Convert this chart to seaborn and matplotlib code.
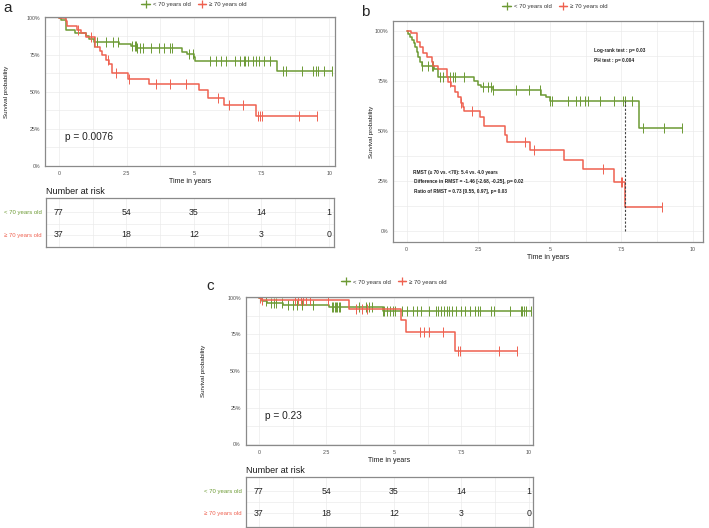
import numpy as np
import pandas as pd
import matplotlib.pyplot as plt
import seaborn as sns
from matplotlib.lines import Line2D

sns.set_style("white")
plt.rcParams['font.family'] = ['Liberation Sans', 'DejaVu Sans']

GREEN = '#6C9A34'
RED = '#EF6150'
GROUPS = ['< 70 years old', '≥ 70 years old']

# ---- panel a: step times / survival, curve end, censor times ----
a_green_t = [0, 0.09, 0.27, 0.6, 1.0, 1.1, 1.3, 2.22, 2.65, 2.9, 4.57, 4.75, 5.0, 5.05, 8.06]
a_green_s = [1.0, 0.985, 0.92, 0.90, 0.875, 0.856, 0.84, 0.827, 0.811, 0.795, 0.769, 0.757, 0.735, 0.71, 0.643]
a_green_end = 10.1
a_green_cens = [1.3, 1.4, 1.75, 2.0, 2.2, 2.7, 2.8, 2.85, 2.9, 3.0, 3.1, 3.4, 3.7, 3.9, 4.1,
                4.2, 4.8, 4.95, 5.6, 5.8, 6.0, 6.2, 6.5, 6.7, 6.85, 6.9, 7.0, 7.2, 7.3, 7.4,
                7.6, 7.8, 8.3, 8.4, 9.0, 9.4, 9.5, 9.6, 9.8, 10.1]
a_red_t = [0, 0.25, 0.3, 0.65, 0.8, 1.0, 1.35, 1.5, 1.6, 1.75, 1.85, 1.95, 2.55, 3.35, 5.2, 5.5, 6.1, 7.3]
a_red_s = [1.0, 0.978, 0.948, 0.919, 0.897, 0.874, 0.802, 0.775, 0.753, 0.717, 0.69, 0.627,
           0.587, 0.553, 0.51, 0.458, 0.409, 0.339]
a_red_end = 9.57
a_red_cens = [0.7, 1.2, 1.8, 2.1, 2.6, 3.6, 4.1, 4.7, 5.9, 6.3, 6.8, 7.35, 7.45, 7.5, 8.9, 9.57]
a_pval = 'p = 0.0076'

# ---- panel b ----
b_green_t = [0, 0.05, 0.1, 0.2, 0.25, 0.3, 0.35, 0.4, 0.45, 0.52, 0.95, 1.1, 2.35, 2.5, 2.6,
             3.0, 4.7, 4.85, 5.0, 8.1]
b_green_s = [1.0, 0.985, 0.97, 0.955, 0.94, 0.92, 0.895, 0.87, 0.845, 0.825, 0.809, 0.769,
             0.75, 0.73, 0.719, 0.702, 0.681, 0.67, 0.648, 0.515]
b_green_end = 9.63
b_green_cens = [0.52, 0.76, 0.87, 0.93, 1.16, 1.26, 1.51, 1.6, 1.69, 2.0, 2.67, 2.85, 2.93,
                3.02, 3.8, 4.28, 4.67, 5.0, 5.06, 5.64, 5.93, 6.07, 6.24, 6.34, 6.74, 7.24,
                7.56, 7.62, 7.88, 8.26, 8.98, 9.63]
b_red_t = [0, 0.14, 0.35, 0.47, 0.58, 0.7, 0.87, 0.93, 1.1, 1.4, 1.45, 1.55, 1.7, 1.8, 1.9,
           1.95, 2.0, 2.56, 2.7, 3.45, 3.5, 4.3, 5.5, 6.17, 7.24, 7.63]
b_red_s = [1.0, 0.987, 0.945, 0.92, 0.887, 0.868, 0.846, 0.826, 0.809, 0.769, 0.745, 0.725,
           0.695, 0.67, 0.64, 0.622, 0.60, 0.57, 0.524, 0.48, 0.446, 0.405, 0.357, 0.31,
           0.246, 0.12]
b_red_end = 8.93
b_red_cens = [1.5, 1.9, 2.27, 4.13, 4.44, 6.86, 7.48, 7.52, 8.93]
b_tau = 7.62
b_tests = ['Log-rank test : p= 0.03', 'PH test : p= 0.004']
b_rmst = ['RMST (≥ 70 vs. <70): 5.4 vs. 4.0 years',
          'Difference in RMST = -1.46 [-2.68, -0.25], p= 0.02',
          'Ratio of RMST = 0.73 [0.55, 0.97], p= 0.03']

# ---- panel c ----
c_green_t = [0, 0.1, 0.3, 0.9, 2.6, 4.6]
c_green_s = [1.0, 0.975, 0.965, 0.95, 0.937, 0.91]
c_green_end = 10.06
c_green_cens = [0.28, 0.45, 0.55, 0.65, 0.84, 1.07, 1.25, 1.4, 1.58, 2.0, 2.7, 2.75, 2.8, 2.85,
                2.9, 2.95, 3.0, 3.7, 3.95, 4.08, 4.2, 4.6, 4.65, 4.73, 4.85, 4.95, 5.04, 5.3,
                5.5, 5.7, 5.85, 6.0, 6.3, 6.55, 6.65, 6.75, 6.85, 6.95, 7.05, 7.15, 7.3, 7.5,
                7.65, 7.8, 8.0, 8.1, 8.2, 8.6, 8.7, 9.3, 9.7, 9.75, 9.8, 9.9, 10.06]
c_red_t = [0, 0.1, 3.35, 5.25, 5.45, 7.25]
c_red_s = [1.0, 0.984, 0.923, 0.848, 0.764, 0.636]
c_red_end = 9.55
c_red_cens = [0.05, 0.1, 1.33, 1.45, 1.55, 1.65, 1.75, 1.89, 2.56, 3.6, 3.8, 4.0, 5.95, 6.1,
              6.3, 6.83, 7.36, 7.44, 8.9, 9.55]
c_pval = 'p = 0.23'

# ---- numbers at risk (a and c) ----
risk_times = [0, 2.5, 5, 7.5, 10]
risk_green = [77, 54, 35, 14, 1]
risk_red = [37, 18, 12, 3, 0]

W, H = 709, 528
fig = plt.figure(figsize=(W / 100, H / 100), dpi=100)


def rect(x0, y0, x1, y1):
    return [x0 / W, 1 - y1 / H, (x1 - x0) / W, (y1 - y0) / H]


def style_grid(ax):
    ax.grid(which='both', color='#ebebeb', lw=0.5)
    ax.set_axisbelow(True)
    for sp in ax.spines.values():
        sp.set_color('#8a8a8a')
        sp.set_linewidth(0.9)


def style_km(ax, xlim, ylim, ylab_x):
    ax.set_xlim(*xlim)
    ax.set_ylim(*ylim)
    ax.set_xticks([0, 2.5, 5, 7.5, 10], ['0', '2.5', '5', '7.5', '10'])
    ax.set_xticks([1.25, 3.75, 6.25, 8.75], minor=True)
    ax.set_yticks([0, 0.25, 0.5, 0.75, 1], ['0%', '25%', '50%', '75%', '100%'])
    ax.set_yticks([0.125, 0.375, 0.625, 0.875], minor=True)
    style_grid(ax)
    ax.tick_params(which='major', labelsize=3.8, labelcolor='#4d4d4d', color='#4d4d4d',
                   length=2, width=0.5, pad=1.5)
    ax.tick_params(which='minor', length=0)
    ax.set_xlabel('Time in years', fontsize=5, labelpad=1.5, color='#1a1a1a')
    ax.set_ylabel('Survival probability', fontsize=4.5, color='#1a1a1a')
    ax.yaxis.set_label_coords(ylab_x, 0.5)


def draw_curve(ax, t, s, t_end, cens, color):
    df = pd.DataFrame({'time': list(t) + [t_end], 'surv': list(s) + [s[-1]]})
    sns.lineplot(data=df, x='time', y='surv', ax=ax, color=color, lw=1.1,
                 drawstyle='steps-post', estimator=None, sort=False)
    idx = np.searchsorted(t, cens, side='right') - 1
    ax.plot(cens, np.array(s)[idx], ls='none', marker='|', ms=6.5, mew=0.7, color=color)


def risk_table(ax, xlim, ylim):
    ax.set_xlim(*xlim)
    ax.set_ylim(*ylim)
    ax.set_xticks([0, 2.5, 5, 7.5, 10])
    ax.set_xticks([1.25, 3.75, 6.25, 8.75], minor=True)
    ax.set_yticks([0, 1], GROUPS)
    ax.set_yticks([0.5], minor=True)
    style_grid(ax)
    ax.tick_params(axis='x', which='both', length=0, labelbottom=False)
    ax.tick_params(axis='y', which='both', length=0, labelsize=4.3, pad=3)
    for lab, col in zip(ax.get_yticklabels(), [GREEN, RED]):
        lab.set_color(col)
    for row, counts in enumerate([risk_green, risk_red]):
        for t, n in zip(risk_times, counts):
            ax.text(t, row, str(n), ha='center', va='center', fontsize=6.3, color='#222222')
    ax.set_title('Number at risk', loc='left', fontsize=6.5, pad=3, color='#1a1a1a')
    ax.set_xlabel('')
    ax.set_ylabel('')


def legend_at(cx, cy):
    handles = [Line2D([0], [0], color=c, lw=1.0, marker='+', ms=6, mew=0.9) for c in (GREEN, RED)]
    fig.legend(handles, GROUPS, loc='center', bbox_to_anchor=(cx / W, 1 - cy / H), ncol=2,
               frameon=False, fontsize=4.3, handlelength=1.4, handletextpad=0.5,
               columnspacing=1.2, borderpad=0, labelcolor='#333333')


# ---------------- panel a ----------------
axa = fig.add_axes(rect(45, 17, 335, 166))
draw_curve(axa, a_green_t, a_green_s, a_green_end, a_green_cens, GREEN)
draw_curve(axa, a_red_t, a_red_s, a_red_end, a_red_cens, RED)
style_km(axa, (-0.52, 10.22), (-0.002, 1.007), -0.125)
axa.text(0.22, 0.195, a_pval, fontsize=7.3, color='#222222', va='center')
legend_at(194, 4.5)
fig.text(3 / W, 1 - 8 / H, 'a', fontsize=11, va='center')

rta = fig.add_axes(rect(46, 198, 334, 247))
risk_table(rta, (-0.48, 10.19), (1.53, -0.63))

# ---------------- panel b ----------------
axb = fig.add_axes(rect(393, 21, 703, 242))
draw_curve(axb, b_green_t, b_green_s, b_green_end, b_green_cens, GREEN)
draw_curve(axb, b_red_t, b_red_s, b_red_end, b_red_cens, RED)
tau_level = b_green_s[np.searchsorted(b_green_t, b_tau, side='right') - 1]
axb.vlines(b_tau, 0, tau_level, colors='#444444', linestyles=(0, (2, 1.5)), lw=0.8)
style_km(axb, (-0.48, 10.35), (-0.053, 1.048), -0.062)
for i, txt in enumerate(b_tests):
    axb.text(6.53, 0.899 - i * 0.05, txt, fontsize=3.4, fontweight='bold', va='center',
             color='#222222')
for i, txt in enumerate(b_rmst):
    axb.text(0.21 if i == 0 else 0.25, 0.295 - i * 0.049, txt, fontsize=3.4,
             fontweight='bold', va='center', color='#222222')
legend_at(555, 6)
fig.text(361 / W, 1 - 12 / H, 'b', fontsize=11, va='center')

# ---------------- panel c ----------------
axc = fig.add_axes(rect(245.7, 296.5, 532.7, 445))
draw_curve(axc, c_green_t, c_green_s, c_green_end, c_green_cens, GREEN)
draw_curve(axc, c_red_t, c_red_s, c_red_end, c_red_cens, RED)
style_km(axc, (-0.49, 10.14), (-0.005, 1.008), -0.14)
axc.text(0.22, 0.195, c_pval, fontsize=7.3, color='#222222', va='center')
legend_at(394, 282)
fig.text(206 / W, 1 - 286 / H, 'c', fontsize=11, va='center')

rtc = fig.add_axes(rect(245.7, 477, 532.7, 527))
risk_table(rtc, (-0.49, 10.14), (1.61, -0.63))

fig.savefig('out.png', dpi=100)
